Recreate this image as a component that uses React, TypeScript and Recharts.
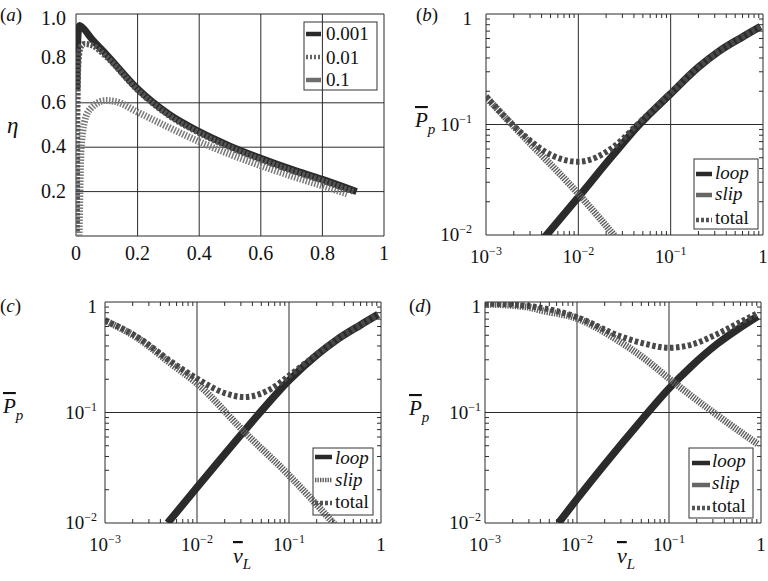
import React from "react";
import { LineChart, Line, XAxis, YAxis, ReferenceLine, ReferenceArea } from "recharts";

const FONT = "'Liberation Serif', 'Times New Roman', 'DejaVu Serif', serif";
const INK = "#2b2b2b";
const TXT = { fontFamily: FONT };

type Pt = [number, number];

// (a) eta against v_L, one curve per ratio
const etaXTicks = [0, 0.2, 0.4, 0.6, 0.8, 1];
const etaYTicks = [0.2, 0.4, 0.6, 0.8, 1.0];
const eta0001: Pt[] = [
  [0.003, 0.66], [0.005, 0.85], [0.008, 0.93], [0.011, 0.948], [0.02, 0.94], [0.05, 0.89],
  [0.102, 0.813], [0.2, 0.663], [0.3, 0.55], [0.4, 0.47], [0.5, 0.405], [0.6, 0.35],
  [0.7, 0.3], [0.8, 0.255], [0.911, 0.2],
];
const eta001: Pt[] = [
  [0.003, 0.02], [0.0035, 0.3], [0.005, 0.6], [0.008, 0.78], [0.015, 0.85], [0.027, 0.865],
  [0.05, 0.86], [0.1, 0.805], [0.2, 0.657], [0.3, 0.544], [0.4, 0.464], [0.5, 0.399],
  [0.6, 0.344], [0.7, 0.294], [0.8, 0.249], [0.9, 0.2],
];
const eta01: Pt[] = [
  [0.01, 0.0], [0.012, 0.15], [0.016, 0.378], [0.027, 0.51], [0.047, 0.573], [0.096, 0.61],
  [0.13, 0.605], [0.2, 0.558], [0.3, 0.49], [0.4, 0.425], [0.5, 0.368], [0.6, 0.317],
  [0.7, 0.27], [0.8, 0.226], [0.88, 0.19],
];

// (b)-(d) power against v_L, log-log
const logXMajor = [0.001, 0.01, 0.1, 1];
const logYMajor = [0.01, 0.1, 1];

const loopB: Pt[] = [
  [0.0043, 0.0095], [0.01, 0.022], [0.0236, 0.0525], [0.0458, 0.1], [0.1, 0.19], [0.2, 0.33],
  [0.334, 0.46], [0.6, 0.62], [0.94, 0.77],
];
const slipB: Pt[] = [[0.001, 0.177], [0.0023, 0.085], [0.01, 0.0236], [0.027, 0.009]];
const totalB: Pt[] = [
  [0.001, 0.18], [0.0023, 0.087], [0.0052, 0.0525], [0.01, 0.046], [0.0236, 0.062],
  [0.0458, 0.104], [0.1, 0.192], [0.2, 0.332], [0.334, 0.46], [0.6, 0.62], [0.94, 0.77],
];

const loopC: Pt[] = [
  [0.0048, 0.01], [0.01, 0.021], [0.02, 0.042], [0.0316, 0.066], [0.05, 0.103], [0.1, 0.195],
  [0.2, 0.33], [0.337, 0.46], [0.6, 0.62], [0.93, 0.77],
];
const slipC: Pt[] = [
  [0.001, 0.68], [0.00227, 0.47], [0.0052, 0.277], [0.01, 0.183], [0.0327, 0.0667],
  [0.1, 0.027], [0.34, 0.009],
];
const totalC: Pt[] = [
  [0.001, 0.68], [0.00227, 0.48], [0.0052, 0.29], [0.01, 0.203], [0.02, 0.15], [0.0327, 0.138],
  [0.0637, 0.164], [0.1, 0.215], [0.2, 0.335], [0.337, 0.462], [0.6, 0.62], [0.93, 0.77],
];

const loopD: Pt[] = [
  [0.0063, 0.01], [0.01, 0.0165], [0.02, 0.034], [0.0316, 0.054], [0.05, 0.085], [0.1, 0.165],
  [0.173, 0.26], [0.337, 0.42], [0.6, 0.59], [0.916, 0.74],
];
const slipD: Pt[] = [
  [0.001, 0.96], [0.0029, 0.9], [0.0041, 0.84], [0.01, 0.71], [0.0277, 0.45], [0.054, 0.308],
  [0.1, 0.203], [0.337, 0.094], [0.916, 0.052],
];
const totalD: Pt[] = [
  [0.001, 0.97], [0.003, 0.92], [0.01, 0.73], [0.0277, 0.5], [0.054, 0.42], [0.1, 0.385],
  [0.173, 0.41], [0.337, 0.515], [0.6, 0.66], [0.916, 0.79],
];

const minorLog = (decades: number[]) =>
  decades.flatMap((d) => [2, 3, 4, 5, 6, 7, 8, 9].map((m) => +(m * d).toPrecision(3)));
const logXAll = [...logXMajor, ...minorLog([0.001, 0.01, 0.1])];
const logYAll = [...logYMajor, ...minorLog([0.01, 0.1])];

const toRows = (pts: Pt[]) => pts.map(([x, y]) => ({ x, y }));

interface SeriesDef {
  name: string;
  pts: Pt[];
  stroke: string;
  width: number;
  dash?: string;
}

interface PanelProps {
  left: number;
  top: number;
  plotW: number;
  plotH: number;
  log: boolean;
  xDomain: [number, number];
  yDomain: [number, number];
  xTicks: number[];
  yTicks: number[];
  xMajor: number[];
  yMajor: number[];
  gridX: number[];
  gridY: number[];
  series: SeriesDef[];
  yGap: number;
  xBase: number;
}

const PAD_L = 75;
const PAD_T = 10;
const PAD_R = 6;
const PAD_B = 40;

const near = (list: number[], v: number) => list.some((m) => Math.abs(m - v) < 1e-9);

const PowText = ({ v, ...rest }: any) => {
  if (Math.abs(v - 1) < 1e-9) return <text {...rest} style={TXT}>1</text>;
  const e = Math.round(Math.log10(v));
  return (
    <text {...rest} style={TXT}>
      10
      <tspan dy={-8} fontSize={12}>
        {"\u2212" + -e}
      </tspan>
    </text>
  );
};

function Panel(p: PanelProps) {
  const W = p.plotW + PAD_L + PAD_R;
  const H = p.plotH + PAD_T + PAD_B;

  const xTick = (props: any) => {
    const { x, y, payload } = props;
    const v = payload.value;
    const major = near(p.xMajor, v);
    if (!major) {
      return (
        <g>
          <line x1={x} x2={x} y1={y} y2={y - 4} stroke={INK} />
          <line x1={x} x2={x} y1={y - p.plotH} y2={y - p.plotH + 4} stroke={INK} />
        </g>
      );
    }
    const common = { x, y: y + p.xBase, textAnchor: "middle", fill: "#111" };
    if (p.log) return <PowText v={v} {...common} fontSize={19} />;
    const label = v === 0 ? "0" : v === 1 ? "1" : v.toFixed(1);
    return (
      <text {...common} fontSize={20} style={TXT}>
        {label}
      </text>
    );
  };

  const yTick = (props: any) => {
    const { x, y, payload } = props;
    const v = payload.value;
    const major = near(p.yMajor, v);
    if (!major) {
      return (
        <g>
          <line x1={x} x2={x + 4} y1={y} y2={y} stroke={INK} />
          <line x1={x + p.plotW} x2={x + p.plotW - 4} y1={y} y2={y} stroke={INK} />
        </g>
      );
    }
    const isTop = Math.abs(v - p.yDomain[1]) < 1e-9;
    const common = { x: x - p.yGap, y: y + (isTop ? 11 : 6), textAnchor: "end", fill: "#111" };
    if (p.log) return <PowText v={v} {...common} fontSize={19} />;
    return (
      <text {...common} fontSize={20} style={TXT}>
        {v.toFixed(1)}
      </text>
    );
  };

  return (
    <div style={{ position: "absolute", left: p.left - PAD_L, top: p.top - PAD_T }}>
      <LineChart width={W} height={H} margin={{ top: PAD_T, right: PAD_R, bottom: 0, left: 0 }}>
        <XAxis
          dataKey="x"
          type="number"
          scale={p.log ? "log" : "linear"}
          domain={p.xDomain}
          allowDataOverflow
          ticks={p.xTicks}
          interval={0}
          tickLine={false}
          axisLine={false}
          tickSize={0}
          tickMargin={0}
          height={PAD_B}
          tick={xTick}
        />
        <YAxis
          type="number"
          scale={p.log ? "log" : "linear"}
          domain={p.yDomain}
          allowDataOverflow
          ticks={p.yTicks}
          interval={0}
          tickLine={false}
          axisLine={false}
          tickSize={0}
          tickMargin={0}
          width={PAD_L}
          tick={yTick}
        />
        {p.gridX.map((v) => (
          <ReferenceLine key={"gx" + v} x={v} stroke={INK} strokeWidth={1} />
        ))}
        {p.gridY.map((v) => (
          <ReferenceLine key={"gy" + v} y={v} stroke={INK} strokeWidth={1} />
        ))}
        {p.series.map((s) => (
          <Line
            key={s.name}
            name={s.name}
            data={toRows(s.pts)}
            dataKey="y"
            type="monotone"
            stroke={s.stroke}
            strokeWidth={s.width}
            strokeDasharray={s.dash}
            dot={false}
            activeDot={false}
            isAnimationActive={false}
          />
        ))}
        <ReferenceArea
          x1={p.xDomain[0]}
          x2={p.xDomain[1]}
          y1={p.yDomain[0]}
          y2={p.yDomain[1]}
          fill="none"
          stroke={INK}
          strokeWidth={1}
        />
      </LineChart>
    </div>
  );
}

interface LegendRow {
  label: string;
  italic: boolean;
  stroke: string;
  dash?: string;
  lineY: number;
  baseY: number;
}

function LegendBox(props: {
  x: number;
  y: number;
  w: number;
  h: number;
  lx1: number;
  lx2: number;
  tx: number;
  size: number;
  rows: LegendRow[];
}) {
  return (
    <g>
      <rect x={props.x} y={props.y} width={props.w} height={props.h} fill="none" stroke="#333" strokeWidth={1} />
      {props.rows.map((r) => (
        <g key={r.label}>
          <line x1={props.lx1} x2={props.lx2} y1={r.lineY} y2={r.lineY} stroke={r.stroke} strokeWidth={4.5} strokeDasharray={r.dash} />
          <text x={props.tx} y={r.baseY} fontSize={props.size} fontStyle={r.italic ? "italic" : "normal"} fill="#111" style={TXT}>
            {r.label}
          </text>
        </g>
      ))}
    </g>
  );
}

const PLabel = ({ x, y }: { x: number; y: number }) => (
  <text x={x} y={y} fontSize={21} fontStyle="italic" fill="#111" style={TXT}>
    <tspan style={{ textDecoration: "overline" }}>P</tspan>
    <tspan dy={7} fontSize={15}>p</tspan>
  </text>
);

const VLabel = ({ x, y }: { x: number; y: number }) => (
  <text x={x} y={y} fontSize={22} fontStyle="italic" fill="#111" style={TXT}>
    <tspan style={{ textDecoration: "overline" }}>v</tspan>
    <tspan dy={6} fontSize={15}>L</tspan>
  </text>
);

const PanelTag = ({ x, y, t }: { x: number; y: number; t: string }) => (
  <text x={x} y={y} fontSize={19} fill="#111" style={TXT}>
    (<tspan fontStyle="italic">{t}</tspan>)
  </text>
);

const LOOP_STYLE = { stroke: INK, width: 7.5 };
const SLIP_STYLE = { stroke: "#5e5e5e", width: 7, dash: "1.4 1.1" };
const TOTAL_STYLE = { stroke: "#484848", width: 6, dash: "3.5 2.5" };

const powerSeries = (loop: Pt[], slip: Pt[], total: Pt[]): SeriesDef[] => [
  { name: "loop", pts: loop, ...LOOP_STYLE },
  { name: "slip", pts: slip, ...SLIP_STYLE },
  { name: "total", pts: total, ...TOTAL_STYLE },
];

const logPanel = {
  log: true,
  xDomain: [0.001, 1] as [number, number],
  yDomain: [0.01, 1] as [number, number],
  xTicks: logXAll,
  yTicks: logYAll,
  xMajor: logXMajor,
  yMajor: logYMajor,
  gridX: [0.01, 0.1],
  gridY: [0.1],
  xBase: 28,
};

const powerRows = (slipDash: boolean, ys: [number, number][]): LegendRow[] => [
  { label: "loop", italic: true, stroke: INK, lineY: ys[0][0], baseY: ys[0][1] },
  {
    label: "slip",
    italic: true,
    stroke: slipDash ? "#5e5e5e" : "#666",
    dash: slipDash ? "1.4 1.1" : undefined,
    lineY: ys[1][0],
    baseY: ys[1][1],
  },
  { label: "total", italic: false, stroke: "#555", dash: "3 2", lineY: ys[2][0], baseY: ys[2][1] },
];

export default function App() {
  return (
    <div
      style={{
        position: "absolute",
        left: 0,
        top: 0,
        width: 768,
        height: 581,
        background: "#fff",
        overflow: "hidden",
        fontFamily: FONT,
      }}
    >
      <Panel
        left={76}
        top={14}
        plotW={308}
        plotH={222}
        log={false}
        xDomain={[0, 1]}
        yDomain={[0, 1]}
        xTicks={etaXTicks}
        yTicks={etaYTicks}
        xMajor={etaXTicks}
        yMajor={etaYTicks}
        gridX={[0.2, 0.4, 0.6, 0.8]}
        gridY={[0.2, 0.4, 0.6]}
        series={[
          { name: "0.1", pts: eta01, stroke: "#7a7a7a", width: 7, dash: "1.5 1.5" },
          { name: "0.001", pts: eta0001, stroke: INK, width: 7 },
          { name: "0.01", pts: eta001, stroke: "#555", width: 6, dash: "2.5 1.5" },
        ]}
        yGap={10}
        xBase={24}
      />
      <Panel left={486} top={14} plotW={277} plotH={221} {...logPanel} series={powerSeries(loopB, slipB, totalB)} yGap={14} />
      <Panel left={105} top={302} plotW={276} plotH={221} {...logPanel} series={powerSeries(loopC, slipC, totalC)} yGap={8} />
      <Panel left={485} top={302} plotW={276} plotH={221} {...logPanel} series={powerSeries(loopD, slipD, totalD)} yGap={4} />

      <svg width={768} height={581} style={{ position: "absolute", left: 0, top: 0, pointerEvents: "none" }}>
        <PanelTag x={0} y={21} t="a" />
        <PanelTag x={416} y={21} t="b" />
        <PanelTag x={0} y={312} t="c" />
        <PanelTag x={409} y={312} t="d" />

        <text x={7} y={133} fontSize={23} fontStyle="italic" fill="#111" style={TXT}>
          η
        </text>
        <PLabel x={415} y={127} />
        <PLabel x={3} y={413} />
        <PLabel x={409} y={415} />
        <VLabel x={233} y={563} />
        <VLabel x={617} y={563} />

        <LegendBox
          x={304}
          y={22}
          w={73}
          h={68}
          lx1={306}
          lx2={321}
          tx={326}
          size={19}
          rows={[
            { label: "0.001", italic: false, stroke: INK, lineY: 34, baseY: 40 },
            { label: "0.01", italic: false, stroke: "#666", dash: "2 2", lineY: 57, baseY: 63.5 },
            { label: "0.1", italic: false, stroke: "#6e6e6e", lineY: 80, baseY: 86 },
          ]}
        />
        <LegendBox
          x={694}
          y={159}
          w={64}
          h={70}
          lx1={696}
          lx2={712}
          tx={715}
          size={19}
          rows={powerRows(false, [[174, 179], [195, 200], [220, 224]])}
        />
        <LegendBox
          x={313}
          y={448}
          w={60}
          h={67}
          lx1={315}
          lx2={332}
          tx={335}
          size={19}
          rows={powerRows(true, [[457, 464], [480, 486], [503, 508]])}
        />
        <LegendBox
          x={689}
          y={448}
          w={64}
          h={70}
          lx1={692}
          lx2={710}
          tx={712}
          size={19}
          rows={powerRows(false, [[463, 467], [485, 489], [508, 512]])}
        />
      </svg>
    </div>
  );
}
